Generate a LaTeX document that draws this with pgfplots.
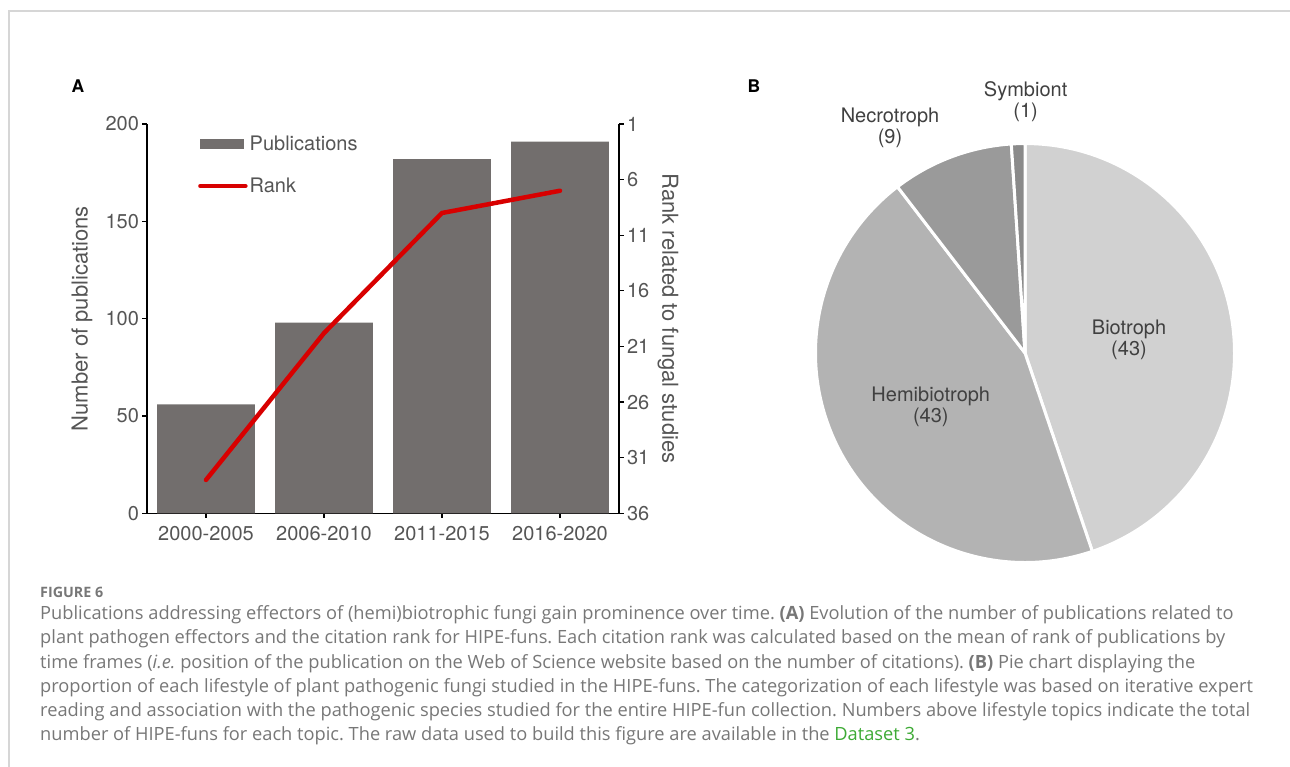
\documentclass[border=0pt]{standalone}
\usepackage{pgfplots}
\pgfplotsset{compat=1.18}
\usepackage{pgfplotstable}
\usepackage{fontspec}
\setmainfont{TeX Gyre Heros}
\newfontfamily\capfont{Open Sans}
\definecolor{barc}{HTML}{726E6D}
\definecolor{redc}{HTML}{D80000}
\definecolor{txt}{HTML}{555555}
\definecolor{pietxt}{HTML}{404040}
\definecolor{framec}{HTML}{D6D6D6}
\definecolor{captxt}{HTML}{777777}
\definecolor{dsgreen}{HTML}{3DAA35}
\definecolor{bioc}{HTML}{D1D1D1}
\definecolor{hemic}{HTML}{B3B3B3}
\definecolor{necc}{HTML}{9A9A9A}
\definecolor{symc}{HTML}{8A8A8A}

\pgfplotstableread{
x pubs rank
0 56 33.0
1 98 19.8
2 182 9.0
3 191 7.0
}\dataA

\pgfplotstableread{
label value
Biotroph 43
Hemibiotroph 43
Necrotroph 9
Symbiont 1
}\dataB

\begin{document}
\frenchspacing
\begin{tikzpicture}[x=1pt,y=1pt]
\useasboundingbox (0,0) rectangle (1290,-767);
\draw[framec, line width=1.3pt] (9,-767) -- (9,-11) -- (1290,-11);

% panel letters
\node[font=\fontsize{17.5}{20}\selectfont\bfseries] at (78,-86) {A};
\node[font=\fontsize{17.5}{20}\selectfont\bfseries] at (754,-86) {B};

% ---------- Panel A: bars ----------
\begin{axis}[
  at={(147pt,-513.3pt)}, anchor=south west,
  scale only axis, width=472pt, height=389.3pt,
  xmin=-0.5, xmax=3.5, ymin=0, ymax=200,
  axis x line*=bottom, axis y line*=left,
  axis line style={black, line width=1.2pt, -},
  xtick={0,1,2,3},
  xticklabels={2000-2005,2006-2010,2011-2015,2016-2020},
  ytick={0,50,100,150,200},
  tick align=outside, major tick length=4.5pt,
  tick style={black, line width=1.2pt},
  tick label style={font=\fontsize{20}{24}\selectfont, text=txt},
  xticklabel style={yshift=-5pt},
  /pgf/number format/assume math mode=true,
  ylabel={Number of publications},
  ylabel style={at={(axis description cs:-0.1377,0.5)}, anchor=center,
    font=\fontsize{22}{26}\selectfont, text=txt},
]
\addplot[ybar, bar width=97.6pt, fill=barc, draw=none] table[x=x, y=pubs]{\dataA};
\end{axis}

% ---------- Panel A: rank line ----------
\begin{axis}[
  at={(147pt,-513.3pt)}, anchor=south west,
  scale only axis, width=472pt, height=389.3pt,
  xmin=-0.5, xmax=3.5, ymin=1, ymax=36, y dir=reverse,
  axis x line=none, axis y line*=right,
  axis line style={black, line width=1.2pt, -},
  ytick={1,6,11,16,21,26,31,36},
  tick align=outside, major tick length=4.5pt,
  tick style={black, line width=1.2pt},
  tick label style={font=\fontsize{20}{24}\selectfont, text=txt},
  /pgf/number format/assume math mode=true,
  ylabel={Rank related to fungal studies},
  ylabel style={at={(axis description cs:1.1038,0.5)}, anchor=center, rotate=180,
    font=\fontsize{22}{26}\selectfont, text=txt},
  legend cell align=left,
  legend style={draw=none, fill=none, at={(axis description cs:0.108,0.975)},
    anchor=north west, inner xsep=0pt, inner ysep=0pt, row sep=22pt,
    font=\fontsize{20}{24}\selectfont, text=txt,
    nodes={inner sep=2pt}},
]
\addlegendimage{legend image code/.code={\fill[barc] (0pt,-4.65pt) rectangle (43pt,4.65pt);}}
\addlegendentry{Publications}
\addplot[redc, line width=4.5pt, line cap=round, line join=round,
  legend image code/.code={\draw[redc, line width=4.5pt, line cap=round] (0pt,0pt) -- (45pt,0pt);}]
  table[x=x, y=rank]{\dataA};
\addlegendentry{Rank}
\end{axis}

% ---------- Panel B: pie ----------
\pgfplotstablegetelem{0}{value}\of\dataB \let\vA\pgfplotsretval
\pgfplotstablegetelem{1}{value}\of\dataB \let\vB\pgfplotsretval
\pgfplotstablegetelem{2}{value}\of\dataB \let\vC\pgfplotsretval
\pgfplotstablegetelem{3}{value}\of\dataB \let\vD\pgfplotsretval
\pgfmathsetmacro\tot{\vA+\vB+\vC+\vD}
\pgfmathsetmacro\aA{90-360*\vA/\tot}
\pgfmathsetmacro\aB{\aA-360*\vB/\tot}
\pgfmathsetmacro\aC{\aB-360*\vC/\tot}
\pgfmathsetmacro\aD{\aC-360*\vD/\tot}
\begin{axis}[
  at={(1025pt,-353pt)}, anchor=center,
  hide axis, clip=false,
  x=208pt, y=208pt,
  xmin=-1, xmax=1, ymin=-1, ymax=1,
]
\filldraw[bioc, draw=white, line width=3pt, line join=round]
  (axis cs:0,0) -- (axis cs:0,1.007) arc[start angle=90, end angle=\aA, radius=209.5pt] -- cycle;
\filldraw[hemic, draw=white, line width=3pt, line join=round]
  (axis cs:0,0) -- (axis cs:{1.007*cos(\aA)},{1.007*sin(\aA)}) arc[start angle=\aA, end angle=\aB, radius=209.5pt] -- cycle;
\filldraw[necc, draw=white, line width=3pt, line join=round]
  (axis cs:0,0) -- (axis cs:{1.007*cos(\aB)},{1.007*sin(\aB)}) arc[start angle=\aB, end angle=\aC, radius=209.5pt] -- cycle;
\filldraw[symc, draw=white, line width=3pt, line join=round]
  (axis cs:0,0) -- (axis cs:{1.007*cos(\aC)},{1.007*sin(\aC)}) arc[start angle=\aC, end angle=\aD, radius=209.5pt] -- cycle;
\node[align=center, text=pietxt, font=\fontsize{20}{21}\selectfont] at (axis cs:0.5,0.065) {Biotroph\\(43)};
\node[align=center, text=pietxt, font=\fontsize{20}{21}\selectfont] at (axis cs:-0.453,-0.26) {Hemibiotroph\\(43)};
\node[align=center, text=pietxt, font=\fontsize{20}{21}\selectfont] at (axis cs:-0.649,1.084) {Necrotroph\\(9)};
\node[align=center, text=pietxt, font=\fontsize{20}{21}\selectfont] at (axis cs:0.003,1.206) {Symbiont\\(1)};
\end{axis}

% ---------- Caption ----------
\begin{scope}[every node/.style={anchor=base west, inner sep=0pt, text=captxt,
    font=\capfont\fontsize{18.25}{22}\selectfont}]
\node[font=\capfont\bfseries\fontsize{14.3}{17}\selectfont] at (40,-597) {FIGURE 6};
\node at (40,-619.8) {Publications addressing effectors of (hemi)biotrophic fungi gain prominence over time. \textbf{(A)} Evolution of the number of publications related to};
\node at (40,-643.9) {plant pathogen effectors and the citation rank for HIPE-funs. Each citation rank was calculated based on the mean of rank of publications by};
\node at (40,-668.0) {time frames (\textit{i.e.}\ position of the publication on the Web of Science website based on the number of citations). \textbf{(B)} Pie chart displaying the};
\node at (40,-692.1) {proportion of each lifestyle of plant pathogenic fungi studied in the HIPE-funs. The categorization of each lifestyle was based on iterative expert};
\node at (40,-716.2) {reading and association with the pathogenic species studied for the entire HIPE-fun collection. Numbers above lifestyle topics indicate the total};
\node at (40,-740.3) {number of HIPE-funs for each topic. The raw data used to build this figure are available in the \textcolor{dsgreen}{Dataset 3}.};
\end{scope}
\end{tikzpicture}
\end{document}
